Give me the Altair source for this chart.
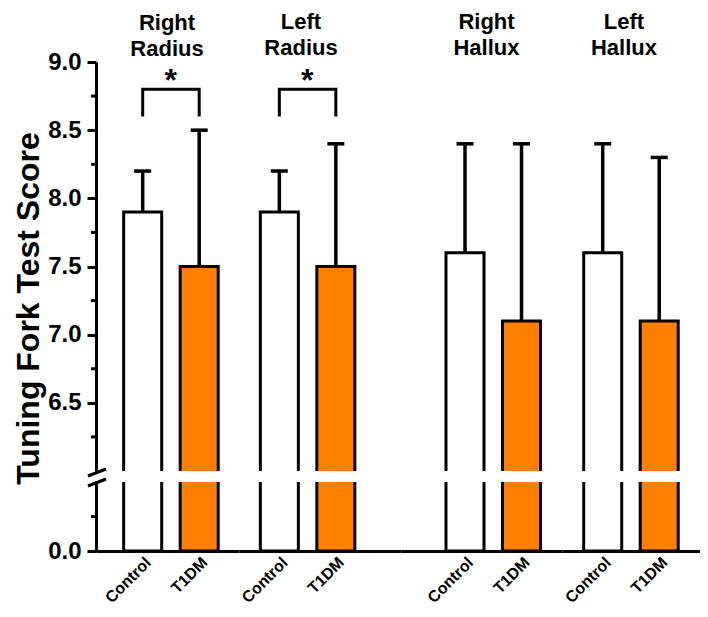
import altair as alt
import pandas as pd

# ---------------- data ----------------
site_names = [["Right", "Radius"], ["Left", "Radius"], ["Right", "Hallux"], ["Left", "Hallux"]]
groups = ["Control", "T1DM"]
control_mean = [7.9, 7.9, 7.6, 7.6]
control_top = [8.2, 8.2, 8.4, 8.4]      # mean + SD
t1dm_mean = [7.5, 7.5, 7.1, 7.1]
t1dm_top = [8.5, 8.4, 8.4, 8.3]         # mean + SD
significant = [True, True, False, False]
bracket_groups = ["Control", "Control", "T1DM", "T1DM"]
bracket_y = [8.6, 8.8, 8.8, 8.6]
star_y = 8.79
upper_major_ticks = [6.5, 7.0, 7.5, 8.0, 8.5, 9.0]
upper_minor_ticks = [6.25, 6.75, 7.25, 7.75, 8.25, 8.75]
lower_major_ticks = [0.0]
lower_minor_ticks = [0.25]
upper_domain = [6.0, 9.0]
lower_domain = [0.0, 0.5]
fill_colors = ["#FFFFFF", "#FF8000"]

# ---------------- layout / style ----------------
FONT = "Liberation Sans"
panel_w = [143, 162, 161, 138]
pad_outer = [0.429, 0.597, 0.588, 0.385]
band_align = [0.571, 0.316, 0.677, 0.499]
title_dx = [-0.5, -19, 5, -7]
title_dy = [12.5, 0, 0, 0]
UPPER_H = 409
LOWER_H = 69


def site_frame(i):
    return pd.DataFrame({
        "group": groups,
        "mean": [control_mean[i], t1dm_mean[i]],
        "top": [control_top[i], t1dm_top[i]],
    })


def xscale(i):
    return alt.Scale(domain=groups, paddingInner=0.327,
                     paddingOuter=pad_outer[i], align=band_align[i])


fill = alt.Fill("group:N", scale=alt.Scale(domain=groups, range=fill_colors), legend=None)


def y_axis(values, with_title):
    kw = dict(
        values=values, format=".1f", labelOverlap=False,
        tickSize=9, tickWidth=3, tickColor="black",
        domainWidth=3, domainColor="black",
        labelFont=FONT, labelFontSize=24, labelFontWeight="bold", labelColor="black",
        labelPadding=6, grid=False,
    )
    if with_title:
        kw.update(title="Tuning Fork Test Score", titleFont=FONT, titleFontSize=32,
                  titleFontWeight="bold", titleColor="black", titleAngle=270,
                  titleBaseline="alphabetic", titleAlign="center",
                  titleX=-57.5, titleY=246)
    else:
        kw.update(title=None)
    return alt.Axis(**kw)


def minor_ticks(values, ysc):
    mdf = pd.DataFrame({"v": values})
    return alt.Chart(mdf).mark_rule(color="black", strokeWidth=3).encode(
        y=alt.Y("v:Q", scale=ysc), x=alt.value(-5), x2=alt.value(0))


def upper_panel(i):
    df = site_frame(i)
    x = alt.X("group:N", scale=xscale(i), axis=None)
    ysc = alt.Scale(domain=upper_domain, nice=False, zero=False)
    yax = y_axis(upper_major_ticks, True) if i == 0 else None
    base = alt.Chart(df)
    bars = base.mark_bar(clip=True, stroke="black", strokeWidth=3).encode(
        x=x, y=alt.Y("mean:Q", scale=ysc, axis=yax), y2=alt.datum(0), fill=fill)
    err = base.mark_rule(color="black", strokeWidth=3.5).encode(
        x=x, y=alt.Y("mean:Q", scale=ysc), y2="top:Q")
    cap = base.mark_tick(color="black", thickness=3.5, size=17, opacity=1).encode(
        x=x, y=alt.Y("top:Q", scale=ysc))
    layers = [bars, err, cap]
    if i == 0:
        layers.append(minor_ticks(upper_minor_ticks, ysc))
    if significant[i]:
        bdf = pd.DataFrame({"group": bracket_groups, "y": bracket_y, "k": [0, 1, 2, 3]})
        bracket = alt.Chart(bdf).mark_line(color="black", strokeWidth=3,
                                           strokeJoin="miter", strokeCap="butt").encode(
            x=x, y=alt.Y("y:Q", scale=ysc), order="k:O")
        sdf = pd.DataFrame({"group": ["Control"], "y": [star_y], "label": ["*"]})
        star = alt.Chart(sdf).mark_text(font=FONT, fontSize=32, fontWeight="bold",
                                        baseline="alphabetic", dx=28, color="black").encode(
            x=x, y=alt.Y("y:Q", scale=ysc), text="label:N")
        layers += [bracket, star]
    return alt.layer(*layers).properties(
        width=panel_w[i], height=UPPER_H,
        title=alt.TitleParams(text=site_names[i], font=FONT, fontSize=22, fontWeight="bold",
                              color="black", lineHeight=26, dx=title_dx[i], dy=title_dy[i],
                              offset=2, anchor="middle", frame="group"))


def lower_panel(i):
    df = site_frame(i)
    x = alt.X("group:N", scale=xscale(i),
              axis=alt.Axis(title=None, labelAngle=-45, labelFont=FONT, labelFontSize=16,
                            labelFontWeight="bold", labelColor="black", ticks=False,
                            domainColor="black", domainWidth=3, labelPadding=3))
    ysc = alt.Scale(domain=lower_domain, nice=False, zero=False)
    yax = y_axis(lower_major_ticks, False) if i == 0 else None
    bars = alt.Chart(df).mark_bar(clip=True, stroke="black", strokeWidth=3).encode(
        x=x, y=alt.Y("mean:Q", scale=ysc, axis=yax), y2=alt.datum(0), fill=fill)
    layers = [bars]
    if i == 0:
        layers.append(minor_ticks(lower_minor_ticks, ysc))
        one = pd.DataFrame({"k": [0]})
        s1 = alt.Chart(one).mark_rule(color="black", strokeWidth=3).encode(
            x=alt.value(-8), y=alt.value(-6), x2=alt.value(10), y2=alt.value(-13))
        s2 = alt.Chart(one).mark_rule(color="black", strokeWidth=3).encode(
            x=alt.value(-8), y=alt.value(4), x2=alt.value(10), y2=alt.value(-3))
        layers += [s1, s2]
    return alt.layer(*layers).properties(width=panel_w[i], height=LOWER_H)


panels = [upper_panel(i) for i in range(4)] + [lower_panel(i) for i in range(4)]
chart = alt.concat(*panels, columns=4, spacing={"row": 11, "column": 0},
                   bounds="flush", align="each").properties(
    padding={"left": 4, "top": 3, "right": 0, "bottom": 0},
    background="white",
).configure_view(stroke=None)

chart.save("out.html", embed_options={"renderer": "svg", "actions": False})
